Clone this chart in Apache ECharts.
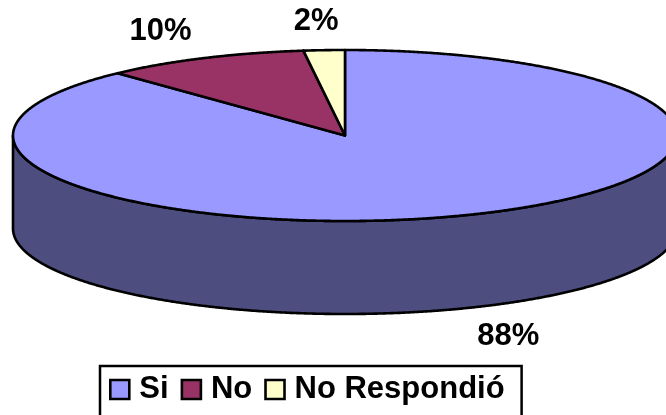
<!DOCTYPE html>
<html>
<head>
<meta charset="utf-8">
<style>html,body{margin:0;padding:0;background:#fff}#chart{width:666px;height:415px}</style>
<script src="https://cdn.jsdelivr.net/npm/echarts@6/dist/echarts.min.js"></script>
</head>
<body>
<div id="chart"></div>
<script>
// Survey answers, as percentages, clockwise from twelve o'clock
const categories = ['Si', 'No', 'No Respondió'];
const shares = [88, 10, 2];
const topColors = ['#9999FF', '#993366', '#FFFFCC'];
const wallColors = ['#4D4D80', '#4D1A33', '#808066'];
const labelNudge = [[41, 28], [-43, -27], [-8, -29]];

// Tilted disc geometry
const disc = { cx: 345, cy: 135.5, rx: 332, ry: 85.5, depth: 93 };
const total = shares.reduce((a, b) => a + b, 0);

const point = (turn, drop) => {
  const t = turn * 2 * Math.PI;
  return [disc.cx + disc.rx * Math.sin(t), disc.cy - disc.ry * Math.cos(t) + (drop || 0)];
};
const arc = (from, to, drop) => {
  const steps = Math.max(2, Math.ceil(Math.abs(to - from) * 1440));
  const pts = [];
  for (let i = 0; i <= steps; i++) pts.push(point(from + (to - from) * i / steps, drop));
  return pts;
};

function drawSlice(index) {
  const start = shares.slice(0, index).reduce((a, b) => a + b, 0) / total;
  const end = start + shares[index] / total;
  const stroke = { stroke: '#000', lineWidth: 2.6, lineJoin: 'round' };
  const children = [];

  // Visible wall: the part of the rim on the near half of the disc
  const wallFrom = Math.max(start, 0.25);
  const wallTo = Math.min(end, 0.75);
  if (wallTo > wallFrom) {
    const pts = arc(wallFrom, wallTo, 0).concat(arc(wallTo, wallFrom, disc.depth));
    children.push({
      type: 'polygon',
      shape: { points: pts },
      style: Object.assign({ fill: wallColors[index] }, stroke)
    });
  }

  // Top face
  children.push({
    type: 'polygon',
    shape: { points: [[disc.cx, disc.cy]].concat(arc(start, end, 0)) },
    style: Object.assign({ fill: topColors[index] }, stroke)
  });

  // Percentage label outside the rim
  const midTurn = (start + end) / 2;
  const mid = point(midTurn, midTurn > 0.25 && midTurn < 0.75 ? disc.depth : 0);
  children.push({
    type: 'text',
    style: {
      x: mid[0] + labelNudge[index][0],
      y: mid[1] + labelNudge[index][1],
      text: shares[index] + '%',
      fill: '#000',
      font: 'bold 31px "Liberation Sans", Arial, sans-serif',
      align: 'center',
      verticalAlign: 'middle'
    }
  });
  return { type: 'group', children };
}

const chart = echarts.init(document.getElementById('chart'), null, { renderer: 'canvas' });
chart.setOption({
  animation: false,
  backgroundColor: '#fff',
  // The frame runs past the bottom edge of the page, so only three sides show
  legend: {
    data: categories,
    left: 100,
    top: 366,
    icon: 'rect',
    itemWidth: 19,
    itemHeight: 19,
    itemGap: 12,
    padding: [8, 17, 20, 9],
    borderColor: '#000',
    borderWidth: 2.5,
    selectedMode: false,
    itemStyle: { borderColor: '#000', borderWidth: 2.6 },
    textStyle: {
      color: '#000',
      fontFamily: '"Liberation Sans", Arial, sans-serif',
      fontWeight: 'bold',
      fontSize: 31,
      padding: [0, 0, 0, 5]
    }
  },
  series: categories.map((name, i) => ({
    type: 'custom',
    name,
    coordinateSystem: 'none',
    silent: true,
    itemStyle: { color: topColors[i] },
    data: [shares[i]],
    renderItem: () => drawSlice(i)
  }))
});
</script>
</body>
</html>
